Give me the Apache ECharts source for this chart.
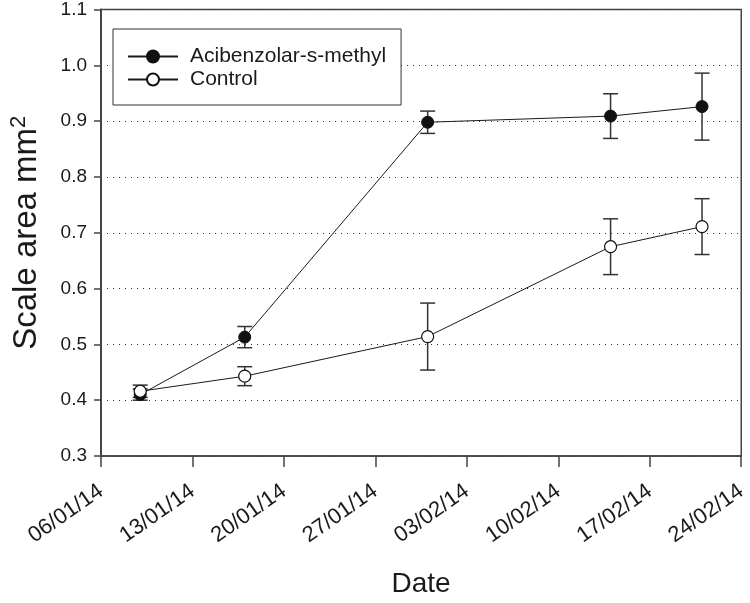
<!DOCTYPE html>
<html>
<head>
<meta charset="utf-8">
<script src="https://cdn.jsdelivr.net/npm/echarts@6/dist/echarts.min.js"></script>
<style>
html,body{margin:0;padding:0;background:#fff;}
#chart{width:750px;height:603px;}
</style>
</head>
<body>
<div id="chart"></div>
<script>
// ---- data ----
const startDate = '06/01/14';
const tickLabels = ['06/01/14','13/01/14','20/01/14','27/01/14','03/02/14','10/02/14','17/02/14','24/02/14'];
const sampleDates = ['09/01/14','17/01/14','31/01/14','14/02/14','21/02/14'];
const asmMean = [0.410, 0.513, 0.898, 0.909, 0.926];
const asmErr  = [0.010, 0.019, 0.020, 0.040, 0.060];
const ctrlMean = [0.416, 0.443, 0.514, 0.675, 0.711];
const ctrlErr  = [0.011, 0.017, 0.060, 0.050, 0.050];
const seriesNames = ['Acibenzolar-s-methyl', 'Control'];

function parseDMY(s) {
  const p = s.split('/');
  return Date.UTC(2000 + (+p[2]), (+p[1]) - 1, +p[0]);
}
const t0 = parseDMY(startDate);
const dayOf = s => Math.round((parseDMY(s) - t0) / 86400000);
const xDays = sampleDates.map(dayOf);

const FONT = 'Liberation Sans, Arial, Helvetica, sans-serif';
const INK = '#1a1a1a';

function errData(mean, err) {
  return xDays.map((d, i) => [d, mean[i] - err[i], mean[i] + err[i]]);
}
function renderErr(params, api) {
  const x = api.value(0);
  const lo = api.coord([x, api.value(1)]);
  const hi = api.coord([x, api.value(2)]);
  const w = 7.5;
  const st = { stroke: '#333', lineWidth: 1.5 };
  return {
    type: 'group',
    children: [
      { type: 'line', shape: { x1: hi[0], y1: hi[1], x2: lo[0], y2: lo[1] }, style: st },
      { type: 'line', shape: { x1: hi[0] - w, y1: hi[1], x2: hi[0] + w, y2: hi[1] }, style: st },
      { type: 'line', shape: { x1: lo[0] - w, y1: lo[1], x2: lo[0] + w, y2: lo[1] }, style: st }
    ]
  };
}

const chart = echarts.init(document.getElementById('chart'), null, { renderer: 'canvas' });
chart.setOption({
  animation: false,
  backgroundColor: '#fff',
  textStyle: { fontFamily: FONT, color: INK },
  grid: { left: 97, right: 2, top: 7, bottom: 140, show: true, borderColor: '#444', borderWidth: 1.5 },
  legend: {
    orient: 'vertical',
    left: 113, top: 29,
    padding: [17, 15, 15, 14],
    itemGap: 2,
    itemWidth: 50, itemHeight: 15,
    borderColor: '#333', borderWidth: 1,
    backgroundColor: '#fff',
    data: seriesNames,
    textStyle: { fontFamily: FONT, fontSize: 21, color: INK, padding: [0, 0, 0, 7] }
  },
  xAxis: {
    type: 'value',
    min: 0, max: 49, interval: 7,
    name: 'Date',
    nameLocation: 'middle',
    nameGap: 114,
    nameTextStyle: { fontFamily: FONT, fontSize: 28, color: INK },
    axisLine: { lineStyle: { color: '#444', width: 1.5 } },
    axisTick: { show: true, length: 11, lineStyle: { color: '#444', width: 1.5 } },
    axisLabel: {
      rotate: 35, margin: 33, fontSize: 22, color: INK, fontFamily: FONT,
      formatter: v => tickLabels[Math.round(v / 7)] || ''
    },
    splitLine: { show: false }
  },
  yAxis: {
    type: 'value',
    min: 0.3, max: 1.1, interval: 0.1,
    name: '{main|Scale area mm}{sup|2}',
    nameLocation: 'middle',
    nameGap: 55,
    nameTextStyle: {
      fontFamily: FONT, color: INK,
      rich: {
        main: { fontSize: 33, fontFamily: FONT, color: INK, lineHeight: 38 },
        sup: { fontSize: 22, fontFamily: FONT, color: INK, verticalAlign: 'top', lineHeight: 38 }
      }
    },
    axisLine: { show: true, lineStyle: { color: '#444', width: 2 } },
    axisTick: { show: true, length: 7, lineStyle: { color: '#444', width: 1.5 } },
    axisLabel: {
      margin: 14, fontSize: 19, color: INK, fontFamily: FONT,
      formatter: v => v.toFixed(1)
    },
    splitLine: { show: true, lineStyle: { color: '#333', type: [1, 5], width: 1 } }
  },
  series: [
    {
      name: 'asm-error', type: 'custom', renderItem: renderErr,
      data: errData(asmMean, asmErr), z: 2, silent: true
    },
    {
      name: 'control-error', type: 'custom', renderItem: renderErr,
      data: errData(ctrlMean, ctrlErr), z: 2, silent: true
    },
    {
      name: seriesNames[0], type: 'line',
      data: xDays.map((d, i) => [d, asmMean[i]]),
      symbol: 'circle', symbolSize: 12, z: 5,
      lineStyle: { color: INK, width: 1 },
      itemStyle: { color: '#111', borderColor: '#111', borderWidth: 1 }
    },
    {
      name: seriesNames[1], type: 'line',
      data: xDays.map((d, i) => [d, ctrlMean[i]]),
      symbol: 'circle', symbolSize: 12, z: 5,
      lineStyle: { color: INK, width: 1 },
      itemStyle: { color: '#fff', borderColor: '#111', borderWidth: 1.2 }
    }
  ]
});
</script>
</body>
</html>
